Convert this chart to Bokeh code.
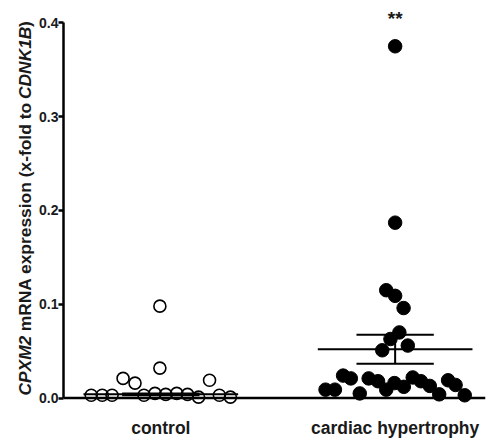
from math import pi
from bokeh.plotting import figure
from bokeh.layouts import row
from bokeh.models import Range1d, FixedTicker, PrintfTickFormatter, Span
from bokeh.core.properties import value
from bokeh.embed import file_html
from bokeh.resources import INLINE

# ---------------- data ----------------
categories = ["control", "cardiac hypertrophy"]

control_values = [0.003, 0.003, 0.003, 0.021, 0.016, 0.003, 0.005, 0.098,
                  0.032, 0.004, 0.005, 0.004, 0.001, 0.019, 0.003, 0.001]
# horizontal scatter (swarm) offsets, as a fraction of the category spacing
control_offsets = [-0.297, -0.250, -0.208, -0.161, -0.110, -0.072, -0.025, -0.004,
                   -0.004, 0.021, 0.068, 0.114, 0.161, 0.208, 0.250, 0.297]

hyper_values = [0.375, 0.187, 0.115, 0.109, 0.096, 0.070, 0.063, 0.056, 0.051,
                0.009, 0.009, 0.024, 0.021, 0.005, 0.021, 0.018, 0.009, 0.016,
                0.012, 0.022, 0.018, 0.013, 0.004, 0.019, 0.014, 0.003]
hyper_offsets = [0.0, 0.0, -0.038, 0.0, 0.036, 0.018, -0.020, 0.054, -0.055,
                 -0.297, -0.257, -0.222, -0.189, -0.151, -0.113, -0.073, -0.038, -0.003,
                 0.037, 0.075, 0.110, 0.148, 0.188, 0.226, 0.258, 0.297]

group_mean = [0.004, 0.052]
group_sem = [0.001, 0.0155]

y_ticks = [0.0, 0.1, 0.2, 0.3, 0.4]
y_label_parts = [("CPXM2", "bold italic"),
                 (" mRNA expression (x-fold to ", "bold"),
                 ("CDNK1B", "bold italic"),
                 (")", "bold")]
significance = "**"

# ---------------- layout ----------------
FONT = "Liberation Sans"
TOTAL_W, TOTAL_H = 486, 440
LW = 36                       # width of the strip holding the y-axis title
W, H = TOTAL_W - LW, TOTAL_H
BL, BR, BT, BB = 60 - LW, 1, 0, 25
frame_w = W - BL - BR
frame_h = H - BT - BB
PX_X = 236.0                  # pixels per category step
PX_Y = 945.0                  # pixels per unit of y
X0 = 1 - 98 / PX_X
X1 = X0 + frame_w / PX_X
Y1 = 0.4 + 22.5 / PX_Y
Y0 = Y1 - frame_h / PX_Y
yr = Range1d(Y0, Y1)

p = figure(width=W, height=H, output_backend="svg", toolbar_location=None,
           x_range=Range1d(X0, X1), y_range=yr,
           min_border_left=BL, min_border_right=BR, min_border_top=BT,
           min_border_bottom=BB)
p.outline_line_color = None
p.grid.visible = False

# y axis
ya = p.yaxis[0]
ya.ticker = FixedTicker(ticks=y_ticks)
ya.formatter = PrintfTickFormatter(format="%.1f")
ya.bounds = (0, 0.4)
ya.axis_line_width = 2.5
ya.axis_line_color = "black"
ya.major_tick_line_width = 2.5
ya.major_tick_out = 5
ya.major_tick_in = 0
ya.minor_tick_line_color = None
ya.major_label_text_font = FONT
ya.major_label_text_font_style = "bold"
ya.major_label_text_font_size = "14px"
ya.major_label_text_color = "#1a1a1a"
ya.major_label_standoff = 0

# x axis (category labels only)
xa = p.xaxis[0]
xa.ticker = FixedTicker(ticks=[1, 2])
xa.major_label_overrides = {1: categories[0], 2: categories[1]}
xa.axis_line_color = None
xa.major_tick_line_color = None
xa.major_tick_out = 0
xa.major_tick_in = 0
xa.minor_tick_line_color = None
xa.major_label_text_font = FONT
xa.major_label_text_font_style = "bold"
xa.major_label_text_font_size = "17.5px"
xa.major_label_text_color = "#1a1a1a"
xa.major_label_standoff = 5

# baseline (x axis line at y = 0)
p.add_layout(Span(location=0, dimension="width", line_color="black", line_width=2.5))

# mean / SEM bars
for i, (m, s) in enumerate(zip(group_mean, group_sem)):
    c = i + 1
    p.segment(x0=[c - 0.33], y0=[m], x1=[c + 0.33], y1=[m], line_color="black", line_width=2)
    p.segment(x0=[c - 0.165, c - 0.165, c], y0=[m + s, m - s, m - s],
              x1=[c + 0.165, c + 0.165, c], y1=[m + s, m - s, m + s],
              line_color="black", line_width=2)

# points
p.scatter([1 + o for o in control_offsets], control_values, size=12,
          fill_alpha=0, line_color="black", line_width=1.6)
p.scatter([2 + o for o in hyper_offsets], hyper_values, size=13.5,
          fill_color="black", line_color="black")

# significance stars
p.text(x=[2], y=[0.4048], text=[significance], text_font=value(FONT),
       text_font_style="bold", text_font_size="19px", text_align="center",
       text_baseline="middle", text_color="#1a1a1a")

# ---------------- y-axis title strip (mixed italic / upright) ----------------
# shares the y range with the chart (frames are aligned in the row layout)
lf = figure(width=LW, height=H, output_backend="svg", toolbar_location=None,
            x_range=Range1d(0, LW), y_range=yr,
            min_border_left=0, min_border_right=0, min_border_top=BT,
            min_border_bottom=BB)
lf.axis.visible = False
lf.grid.visible = False
lf.outline_line_color = None

AW = {'C': 722, 'P': 667, 'X': 667, 'M': 833, '2': 556, ' ': 278, 'm': 889,
      'R': 722, 'N': 722, 'A': 722, 'e': 556, 'x': 556, 'p': 611, 'r': 389,
      's': 556, 'i': 278, 'o': 611, 'n': 611, '(': 333, '-': 333, 'f': 333,
      'l': 278, 'd': 611, 't': 333, 'D': 722, 'K': 722, '1': 556, 'B': 722, ')': 333}


def tw(s, size):
    return sum(AW.get(ch, 556) for ch in s) * size / 1000.0


fs = 17.4
pos = 2.5                      # pixels above the zero line where the title starts
for txt, style in y_label_parts:
    lead = len(txt) - len(txt.lstrip(" "))
    shown = txt.strip(" ")
    lf.text(x=[24.5], y=[(pos + tw(" " * lead, fs)) / PX_Y], text=[shown], angle=pi / 2,
            text_font=value(FONT), text_font_style=style,
            text_font_size=f"{fs}px", text_align="left",
            text_baseline="middle", text_color="#1a1a1a")
    pos += tw(txt, fs)

layout = row(lf, p, spacing=0)
open("out.html", "w").write(file_html(layout, INLINE))
